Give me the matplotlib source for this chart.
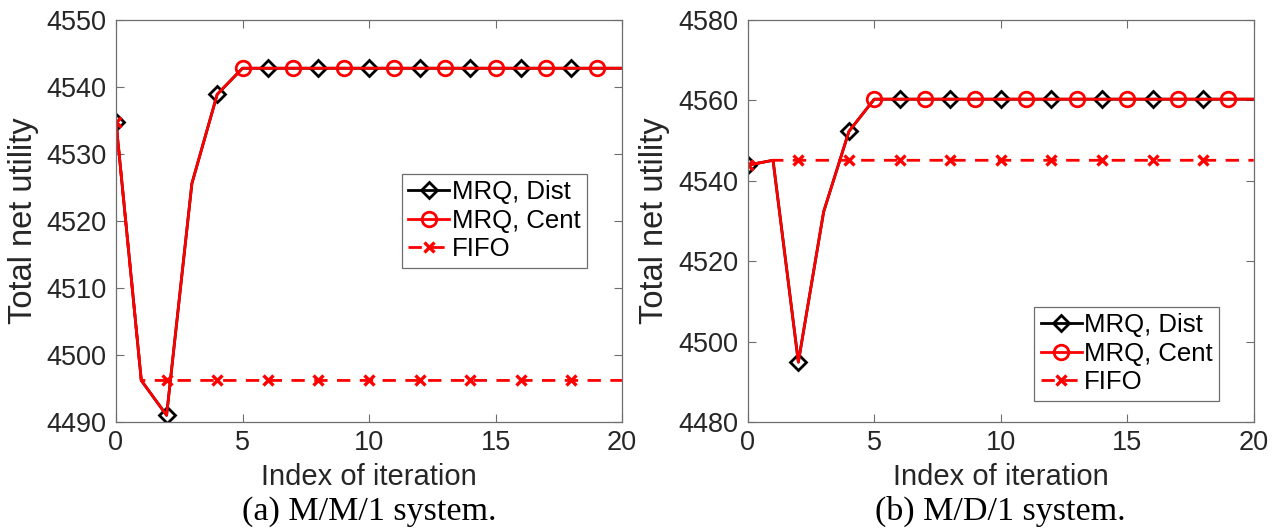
import matplotlib
matplotlib.use("Agg")
import matplotlib.pyplot as plt

plt.rcParams['font.family'] = ['Liberation Sans', 'DejaVu Sans']

# iteration index
iters = list(range(21))

# (a) M/M/1 system
mm1_dist = [4534.8, 4496.2, 4491.0, 4525.6, 4538.9, 4542.8, 4542.8, 4542.8, 4542.8, 4542.8, 4542.8,
            4542.8, 4542.8, 4542.8, 4542.8, 4542.8, 4542.8, 4542.8, 4542.8, 4542.8, 4542.8]
mm1_cent = [4534.8, 4496.2, 4491.0, 4525.6, 4538.9, 4542.8, 4542.8, 4542.8, 4542.8, 4542.8, 4542.8,
            4542.8, 4542.8, 4542.8, 4542.8, 4542.8, 4542.8, 4542.8, 4542.8, 4542.8, 4542.8]
mm1_fifo = [4534.8, 4496.2, 4496.2, 4496.2, 4496.2, 4496.2, 4496.2, 4496.2, 4496.2, 4496.2, 4496.2,
            4496.2, 4496.2, 4496.2, 4496.2, 4496.2, 4496.2, 4496.2, 4496.2, 4496.2, 4496.2]

# (b) M/D/1 system
md1_dist = [4543.9, 4545.1, 4494.9, 4532.3, 4552.3, 4560.3, 4560.3, 4560.3, 4560.3, 4560.3, 4560.3,
            4560.3, 4560.3, 4560.3, 4560.3, 4560.3, 4560.3, 4560.3, 4560.3, 4560.3, 4560.3]
md1_cent = [4543.9, 4545.1, 4494.9, 4532.3, 4552.3, 4560.3, 4560.3, 4560.3, 4560.3, 4560.3, 4560.3,
            4560.3, 4560.3, 4560.3, 4560.3, 4560.3, 4560.3, 4560.3, 4560.3, 4560.3, 4560.3]
md1_fifo = [4543.9, 4545.1, 4545.1, 4545.1, 4545.1, 4545.1, 4545.1, 4545.1, 4545.1, 4545.1, 4545.1,
            4545.1, 4545.1, 4545.1, 4545.1, 4545.1, 4545.1, 4545.1, 4545.1, 4545.1, 4545.1]

labels = ['MRQ, Dist', 'MRQ, Cent', 'FIFO']
captions = ['(a) M/M/1 system.', '(b) M/D/1 system.']

dist_marks = [0, 2, 4, 6, 8, 10, 12, 14, 16, 18]
cent_marks = [5, 7, 9, 11, 13, 15, 17, 19]
fifo_marks = [0, 2, 4, 6, 8, 10, 12, 14, 16, 18]

txt = '#262626'
edge = '#6e6e6e'

fig = plt.figure(figsize=(12.76, 5.29), dpi=100)

panels = [
    (0.0909, mm1_dist, mm1_cent, mm1_fifo, (4490, 4550), [4490, 4500, 4510, 4520, 4530, 4540, 4550], (0.565, 0.618)),
    (0.586, md1_dist, md1_cent, md1_fifo, (4480, 4580), [4480, 4500, 4520, 4540, 4560, 4580], (0.566, 0.287)),
]

for k, (left, dist, cent, fifo, ylim, yticks, lgpos) in enumerate(panels):
    ax = fig.add_axes([left, 0.2023, 0.3966, 0.7599])
    ax.plot(iters, dist, color='k', lw=2.0, marker='D', ms=8, mfc='none', mew=2.0,
            markevery=dist_marks, label=labels[0])
    ax.plot(iters, cent, color='#ff0000', lw=2.0, marker='o', ms=10.5, mfc='none', mew=2.0,
            markevery=cent_marks, label=labels[1])
    ax.plot(iters, fifo, color='#ff0000', lw=2.0, ls=(0, (4.8, 3.4)), marker='x', ms=7, mew=2.4,
            markevery=fifo_marks, label=labels[2])

    ax.set_xlim(0, 20)
    ax.set_ylim(*ylim)
    ax.set_xticks([0, 5, 10, 15, 20])
    ax.set_yticks(yticks)
    ax.tick_params(direction='in', top=True, right=True, labelsize=19.5, colors=txt,
                   length=6, width=0.8)
    ax.tick_params(axis='y', pad=7)
    ax.tick_params(axis='x', pad=6)
    for s in ax.spines.values():
        s.set_color(edge)
        s.set_linewidth(0.9)
    ax.tick_params(color=edge)

    ax.set_xlabel('Index of iteration', fontsize=21, color=txt)
    ax.set_ylabel('Total net utility', fontsize=23.5, color=txt)
    ax.xaxis.set_label_coords(0.5, -0.103)
    ax.yaxis.set_label_coords(-0.153, 0.5)

    lg = ax.legend(loc='upper left', bbox_to_anchor=lgpos, fontsize=18.5, fancybox=False,
                   framealpha=1, edgecolor=edge, handlelength=1.6, handletextpad=0.1,
                   labelspacing=0.18, borderpad=0.25, borderaxespad=0, numpoints=1)
    lg.get_frame().set_linewidth(0.9)

    ax.text(0.5, -0.222, captions[k], transform=ax.transAxes, ha='center', va='center',
            fontsize=24.5, family=['Liberation Serif', 'DejaVu Serif'], color='k')

fig.savefig('out.png', dpi=100)
